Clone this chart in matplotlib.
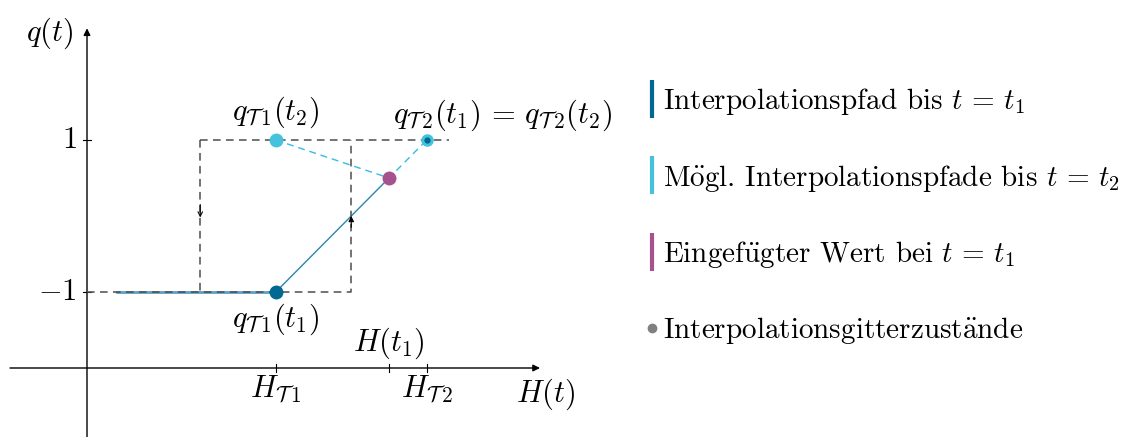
import matplotlib
matplotlib.use('Agg')
from matplotlib import pyplot as plt
from matplotlib.lines import Line2D

plt.rcParams['mathtext.fontset'] = 'cm'
plt.rcParams['font.family'] = ['cmr10', 'DejaVu Serif']
plt.rcParams['axes.unicode_minus'] = False

# hysteresis loop (dashed) and interpolation points, in sketch units
loop_x = [0.0, 3.5, 3.5, 1.5, 1.5, 4.8]
loop_y = [-1, -1, 1, 1, -1, 1]
H_T1, H_t1, H_T2 = 2.5, 4.0, 4.5
path_x = [0.4, H_T1, H_t1]
path_y = [-1, -1, 0.5]
cand_x = [H_T1, H_t1, H_T2]
cand_y = [1, 0.5, 1]
xtick_pos = [H_T1, H_t1, H_T2]
ytick_pos = [-1, 1]
ytick_labels = [r'$-1$', r'$1$']

legend_labels = [
    r'Interpolationspfad bis $t\,=\,t_1$',
    r'M$\ddot{\mathrm{o}}$gl. Interpolationspfade bis $t\,=\,t_2$',
    r'Eingef$\ddot{\mathrm{u}}$gter Wert bei $t\,=\,t_1$',
    r'Interpolationsgitterzust$\ddot{\mathrm{a}}$nde',
]

c_dark = '#006892'
c_line = '#2a86ad'
c_cyan = '#45c3dc'
c_cyan_d = '#33bde6'
c_purple = '#a5528f'
c_gray = '#4d4d4d'
fs = 22


def main():
    fig = plt.figure(figsize=(11.24, 4.37), dpi=100)
    ax = fig.add_axes([0, 0, 1, 1])
    ax.set_xlim(-87 / 75.5, (1124 - 87) / 75.5)
    ax.set_ylim(-221 / 76, 216 / 76)
    ax.axis('off')

    # axes with arrows
    ax.annotate('', xy=(6.0, -2), xytext=(-1.02, -2),
                arrowprops=dict(arrowstyle='-|>', color='black', lw=1.0,
                                mutation_scale=10, shrinkA=0, shrinkB=0))
    ax.annotate('', xy=(0, 2.47), xytext=(0, -3.0),
                arrowprops=dict(arrowstyle='-|>', color='black', lw=1.0,
                                mutation_scale=10, shrinkA=0, shrinkB=0))
    for xt in xtick_pos:
        ax.plot([xt, xt], [-2.05, -1.95], color='black', lw=0.8)
    for yt, lab in zip(ytick_pos, ytick_labels):
        ax.plot([-0.05, 0.05], [yt, yt], color='black', lw=0.8)
        ax.text(-0.14, yt, lab, ha='right', va='center', fontsize=fs)

    # interpolation path up to t1
    ax.plot(path_x[:2], path_y[:2], color='#5b9fc2', lw=2.0, zorder=2)
    ax.plot(path_x[1:], path_y[1:], color=c_line, lw=1.0, zorder=2)

    # dashed hysteresis loop
    ax.plot(loop_x[:3], loop_y[:3], color=c_gray, lw=1.1, ls=(0, (5, 3.5)), zorder=3)
    ax.plot(loop_x[3:5], loop_y[3:5], color=c_gray, lw=1.1, ls=(0, (5, 3.5)), zorder=3)
    ax.plot([loop_x[3], loop_x[5]], [loop_y[3], loop_y[5]], color=c_gray, lw=1.1,
            ls=(0, (5, 3.5)), zorder=3)
    ax.annotate('', xy=(1.5, -0.02), xytext=(1.5, 0.15),
                arrowprops=dict(arrowstyle='->', color='black', lw=0.8,
                                mutation_scale=8, shrinkA=0, shrinkB=0), zorder=4)
    ax.annotate('', xy=(3.5, 0.0), xytext=(3.5, -0.15),
                arrowprops=dict(arrowstyle='-|>', color='black', lw=0.8,
                                mutation_scale=8, shrinkA=0, shrinkB=0), zorder=4)

    # possible paths up to t2
    ax.plot(cand_x, cand_y, color=c_cyan_d, lw=1.0, ls=(0, (5, 3.5)), zorder=3)

    # points
    ax.plot(path_x[1], path_y[1], 'o', color=c_dark, ms=9, zorder=5)
    ax.plot(cand_x[0], cand_y[0], 'o', color=c_cyan, ms=9, zorder=5)
    ax.plot(cand_x[2], cand_y[2], 'o', color=c_cyan, ms=8, zorder=5)
    ax.plot(cand_x[2], cand_y[2], 'o', color=c_dark, ms=3.5, zorder=6)
    ax.plot(cand_x[1], cand_y[1], 'o', color=c_purple, ms=9, zorder=5)

    # labels
    ax.text(-0.49, 2.41, r'$q(t)$', ha='center', va='center', fontsize=fs)
    ax.text(H_T1, 1.36, r'$q_{\mathcal{T}\,1}(t_2)$', ha='center', va='center', fontsize=fs)
    ax.text(4.05, 1.33, r'$q_{\mathcal{T}\,2}(t_1)\,=\,q_{\mathcal{T}\,2}(t_2)$',
            ha='left', va='center', fontsize=fs)
    ax.text(H_T1, -1.36, r'$q_{\mathcal{T}\,1}(t_1)$', ha='center', va='center', fontsize=fs)
    ax.text(H_t1, -1.67, r'$H(t_1)$', ha='center', va='center', fontsize=fs)
    ax.text(H_T1, -2.27, r'$H_{\mathcal{T}\,1}$', ha='center', va='center', fontsize=fs)
    ax.text(H_T2, -2.27, r'$H_{\mathcal{T}\,2}$', ha='center', va='center', fontsize=fs)
    ax.text(6.08, -2.34, r'$H(t)$', ha='center', va='center', fontsize=fs)

    # legend with bar handles
    handles = [
        Line2D([], [], marker='|', ls='none', color=c_dark, ms=27, mew=3),
        Line2D([], [], marker='|', ls='none', color=c_cyan, ms=27, mew=3),
        Line2D([], [], marker='|', ls='none', color=c_purple, ms=27, mew=3),
        Line2D([], [], marker='o', ls='none', color='#808080', ms=6),
    ]
    ax.legend(handles, legend_labels, loc='upper left',
              bbox_to_anchor=(648 / 1124, 1 - 86 / 437), frameon=False,
              fontsize=21, handlelength=0.3, handletextpad=0.2,
              labelspacing=1.56, borderpad=0, borderaxespad=0)

    plt.savefig('out.png', dpi=100)
    plt.close()


if __name__ == '__main__':
    main()
